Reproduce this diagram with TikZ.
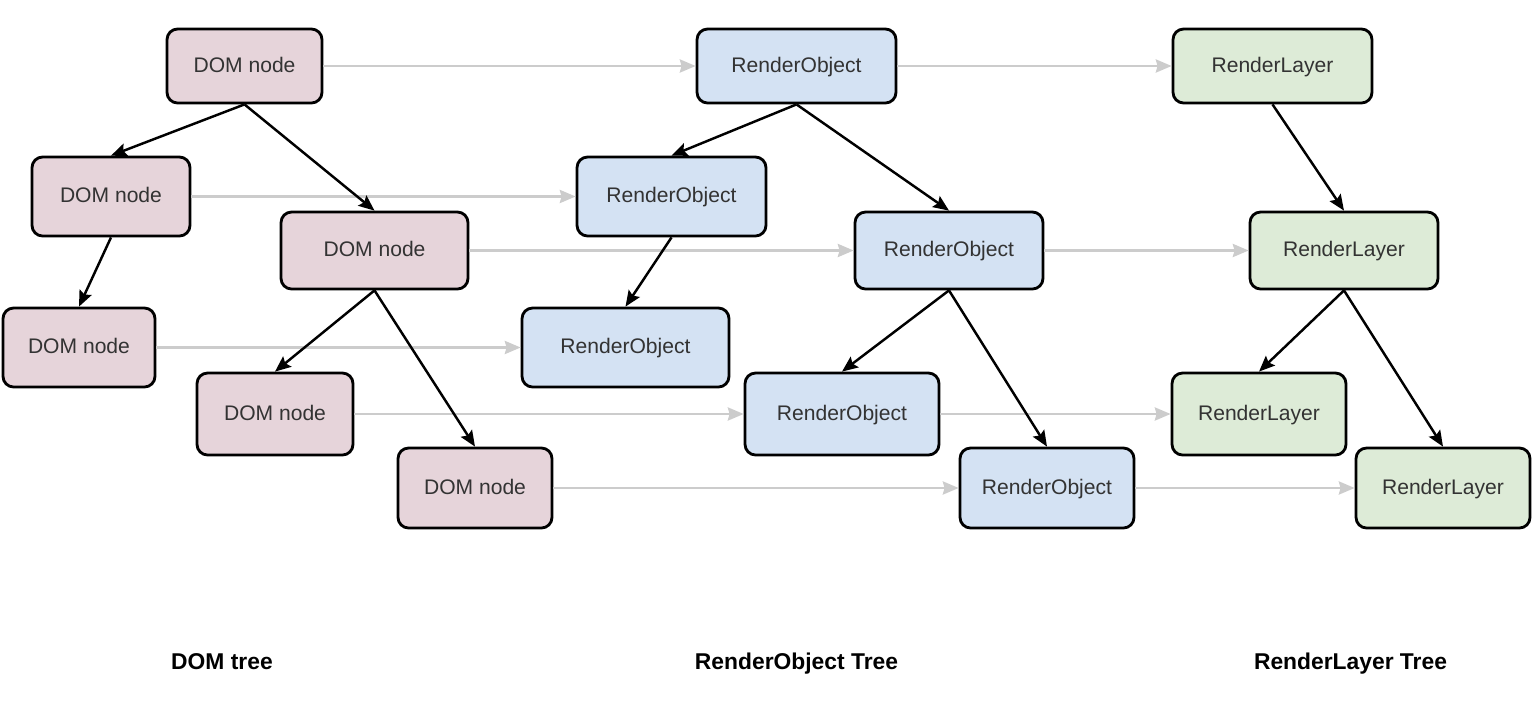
\documentclass[tikz,border=0pt]{standalone}
\usepackage{fontspec}
\setmainfont{Liberation Sans}
\usetikzlibrary{arrows.meta}
\definecolor{domfill}{HTML}{E6D4DA}
\definecolor{objfill}{HTML}{D4E2F3}
\definecolor{layfill}{HTML}{DDEBD7}
\definecolor{txt}{HTML}{333333}
\definecolor{linkgray}{HTML}{CCCCCC}
\tikzset{
  box/.style={draw=black, line width=1.6pt, rounded corners=6pt, inner sep=0pt,
              font=\fontsize{12}{14}\selectfont, text=txt,
              text height=0.72em, text depth=0pt},
  dombox/.style={box, fill=domfill},
  objbox/.style={box, fill=objfill},
  laybox/.style={box, fill=layfill},
  treeedge/.style={draw=black, line width=1.4pt,
                   -{Stealth[length=9pt,width=7.5pt,inset=1.5pt]}},
  maplink/.style={draw=linkgray, line width=1.3pt,
                  -{Stealth[length=9pt,width=7.5pt,inset=1pt]}},
  treetitle/.style={font=\bfseries\fontsize{13}{15}\selectfont, text=black,
                    inner sep=0pt, text height=0.72em, text depth=0pt}
}
\begin{document}
\begin{tikzpicture}[x=0.02cm, y=-0.02cm]
  \useasboundingbox (0,0) rectangle (1536,708);

  % DOM tree
  \node[dombox, minimum width=3.10cm, minimum height=1.48cm] (d1) at (244.5,66) {DOM node};
  \node[dombox, minimum width=3.16cm, minimum height=1.58cm] (d2) at (111,196.5) {DOM node};
  \node[dombox, minimum width=3.74cm, minimum height=1.54cm] (d3) at (374.5,250.5) {DOM node};
  \node[dombox, minimum width=3.04cm, minimum height=1.58cm] (d4) at (79,347.5) {DOM node};
  \node[dombox, minimum width=3.12cm, minimum height=1.64cm] (d5) at (275,414) {DOM node};
  \node[dombox, minimum width=3.08cm, minimum height=1.60cm] (d6) at (475,488) {DOM node};

  % RenderObject tree
  \node[objbox, minimum width=3.98cm, minimum height=1.48cm] (r1) at (796.5,66) {RenderObject};
  \node[objbox, minimum width=3.78cm, minimum height=1.58cm] (r2) at (671.5,196.5) {RenderObject};
  \node[objbox, minimum width=3.76cm, minimum height=1.54cm] (r3) at (949,250.5) {RenderObject};
  \node[objbox, minimum width=4.14cm, minimum height=1.58cm] (r4) at (625.5,347.5) {RenderObject};
  \node[objbox, minimum width=3.88cm, minimum height=1.64cm] (r5) at (842,414) {RenderObject};
  \node[objbox, minimum width=3.48cm, minimum height=1.60cm] (r6) at (1047,488) {RenderObject};

  % RenderLayer tree
  \node[laybox, minimum width=3.98cm, minimum height=1.48cm] (l1) at (1272.5,66) {RenderLayer};
  \node[laybox, minimum width=3.76cm, minimum height=1.54cm] (l2) at (1344,250.5) {RenderLayer};
  \node[laybox, minimum width=3.48cm, minimum height=1.64cm] (l3) at (1259,414) {RenderLayer};
  \node[laybox, minimum width=3.48cm, minimum height=1.60cm] (l4) at (1443,488) {RenderLayer};

  % mapping links between the trees
  \draw[maplink] (d1.east) -- (r1.west);
  \draw[maplink] (d2.east) -- (d2.east -| r2.west);
  \draw[maplink] (d3.east) -- (d3.east -| r3.west);
  \draw[maplink] (d4.east) -- (d4.east -| r4.west);
  \draw[maplink] (d5.east) -- (d5.east -| r5.west);
  \draw[maplink] (d6.east) -- (d6.east -| r6.west);
  \draw[maplink] (r1.east) -- (r1.east -| l1.west);
  \draw[maplink] (r3.east) -- (r3.east -| l2.west);
  \draw[maplink] (r5.east) -- (r5.east -| l3.west);
  \draw[maplink] (r6.east) -- (r6.east -| l4.west);

  % parent-child edges
  \draw[treeedge] (d1.south) -- (d2.north);
  \draw[treeedge] (d1.south) -- (d3.north);
  \draw[treeedge] (d2.south) -- (d4.north);
  \draw[treeedge] (d3.south) -- (d5.north);
  \draw[treeedge] (d3.south) -- (d6.north);
  \draw[treeedge] (r1.south) -- (r2.north);
  \draw[treeedge] (r1.south) -- (r3.north);
  \draw[treeedge] (r2.south) -- (r4.north);
  \draw[treeedge] (r3.south) -- (r5.north);
  \draw[treeedge] (r3.south) -- (r6.north);
  \draw[treeedge] (l1.south) -- (l2.north);
  \draw[treeedge] (l2.south) -- (l3.north);
  \draw[treeedge] (l2.south) -- (l4.north);

  % tree titles
  \node[treetitle] (t1) at (222,663) {DOM tree};
  \node[treetitle] (t2) at (796.5,663) {RenderObject Tree};
  \node[treetitle] (t3) at (1350.5,663) {RenderLayer Tree};
\end{tikzpicture}
\end{document}
